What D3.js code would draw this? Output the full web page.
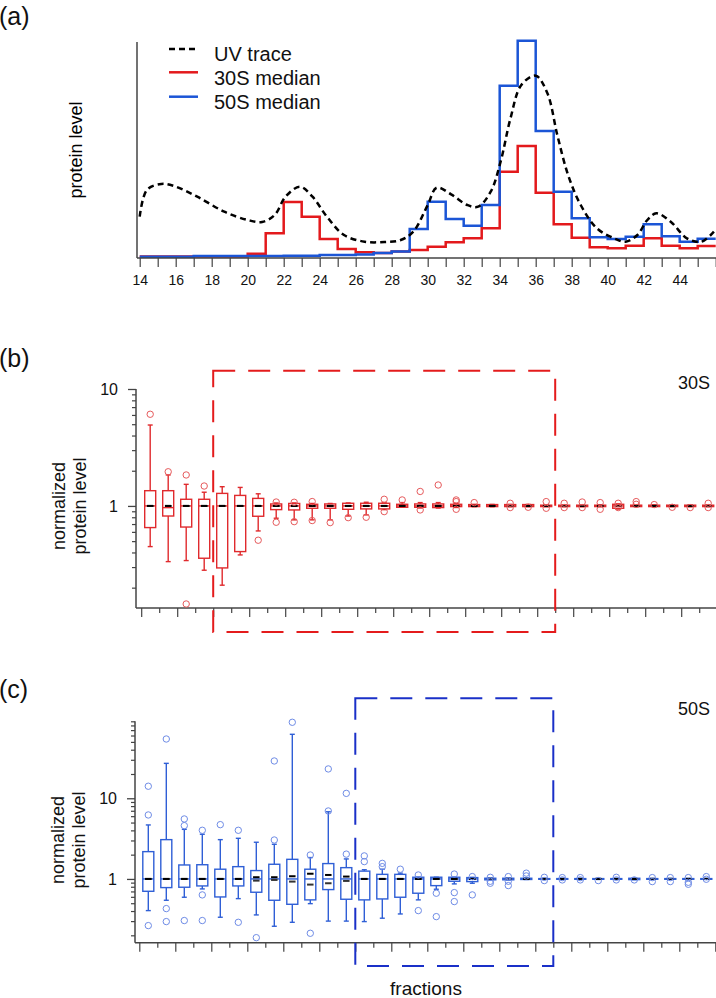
<!DOCTYPE html>
<html><head><meta charset="utf-8">
<script src="https://cdn.jsdelivr.net/npm/d3@7"></script>
<style>body{margin:0;background:#fff}svg{display:block;font-family:"Liberation Sans",Arial,sans-serif}</style>
</head><body><svg id="chart" width="716" height="998"></svg>
<script>
// ---------- DATA ----------
const fractions = d3.range(14, 46); // fractions 14..45
const labelTicks = d3.range(14, 46, 2);

// panel (a): UV trace (fraction, level) and median step levels
const uvFraction = [14.0,14.4,15.2,15.9,17.2,18.7,20.0,20.8,21.5,22.1,22.9,23.6,24.4,25.35,26.5,27.6,28.5,29.2,30.0,30.5,31.3,32.2,32.8,33.5,34.05,34.6,35.2,36.0,36.65,37.2,37.8,38.5,39.4,40.35,41.0,41.65,42.2,42.7,43.5,44.4,45.2,45.9];
const uvLevel =    [41.3,68,74,72,61.3,46.3,38,36,43,61.3,71.3,61.3,41.3,23,16.3,16,18,26.3,53,70.3,63.7,53,51.3,66.3,96.3,139.7,173,182.3,164.7,123,83,53,29.7,19.7,16.3,23,38,44.7,36.3,19.7,16.3,26.3];
const median30S = [1.5,1.5,1.5,1.5,1.5,1.5,4.3,24.7,56,41.3,19,9,5.7,5,6.5,8,11.3,15.7,19.7,29.7,86.3,112,65.3,33.7,20.3,10.7,9.7,12.3,19.7,12.3,9.7,12];
const median50S = [1.3,1.3,1.3,2,2,2,2,2,2.3,2.3,3,3,3.5,5,6.5,29,56.3,39,32.3,53,172.3,217.3,127,66.3,39.7,20.7,19,21.3,33.7,21.7,16.3,19.3];

// panel (b): 30S normalized protein level box plots
const s30Low  = [0.449,0.334,0.341,0.282,0.21,0.381,0.611,0.785,0.76,0.76,0.76,0.82,0.838,0.93,0.974,0.96,0.96,0.97,0.985,0.985,0.985,0.985,0.985,0.985,0.985,0.985,0.94,0.985,0.985,0.985,0.985,0.985];
const s30Q1   = [0.653,0.82,0.66,0.357,0.295,0.407,0.816,0.93,0.924,0.955,0.955,0.936,0.943,0.943,0.974,0.974,0.968,0.987,0.987,0.987,0.987,0.987,0.987,0.987,0.987,0.987,0.955,0.987,0.987,0.987,0.987,0.987];
const s30Med  = [1,0.967,1,1,1,1,1,1,1,1,1,1,1,1,1,1,1,1,1,1,1,1,1,1,1,1,1,1,1,1,1,1];
const s30Q3   = [1.35,1.35,1.14,1.14,1.28,1.23,1.16,1.04,1.05,1.033,1.04,1.054,1.054,1.054,1.033,1.04,1.04,1.033,1.027,1.027,1.027,1.027,1.015,1.015,1.015,1.015,1.033,1.015,1.015,1.015,1.015,1.015];
const s30High = [4.92,1.84,1.53,1.31,1.46,1.44,1.27,1.06,1.06,1.05,1.05,1.06,1.075,1.07,1.068,1.068,1.068,1.05,1.03,1.03,1.03,1.03,1.02,1.02,1.02,1.02,1.04,1.02,1.02,1.02,1.02,1.02];
const s30MarkA = [1,1,1,1,1,1,1,1,1,1,1,1,1,1,1,1,1,1,1,1,1,1,1,1,1,1,1,1,1,1,1,1];
const s30MarkB = [1,1,1,1,1,1,1,1,1,1,1,1,1,1,1,1,1,1,1,1,1,1,1,1,1,1,1,1,1,1,1,1];
const s30Out  = [[6.08],[1.96],[1.84,0.145],[1.48],[],[],[0.509],[1.08,0.725],[1.075,0.734],[1.09,0.75],[0.72],[0.794],[0.8],[1.14,0.894],[1.125],[1.33,0.924],[1.51],[1.125,1.089,0.936],[1.068],[],[1.054,0.968],[0.974],[1.089,0.955],[1.054,0.968],[1.08,0.968],[1.068,0.936],[1.054,0.968],[1.089,1.033],[1.027],[0.974],[0.968],[1.054,0.968]];
const s30Frame = [18, 37];

// panel (c): 50S normalized protein level box plots
const s50Low  = [0.405,0.544,0.593,0.752,0.335,0.57,0.358,0.259,0.29,0.494,0.3,0.3,0.296,0.326,0.368,0.55,0.745,0.868,0.884,0.975,0.975,0.985,0.985,0.985,0.985,0.985,0.985,0.98,0.985,0.985,0.985,0.985];
const s50Q1   = [0.703,0.781,0.789,0.819,0.598,0.819,0.684,0.544,0.485,0.55,0.738,0.56,0.55,0.565,0.593,0.665,0.826,0.936,0.927,0.975,0.975,0.985,0.99,0.99,0.99,0.99,0.99,0.981,0.99,0.99,0.99,0.99];
const s50Med  = [1,1,1,1,1,1,1,1,1,1,1,1,1,1,1,1,1,1,1,1,1,1,1,1,1,1,1,1,1,1,1,1];
const s50Q3   = [2.18,3.07,1.49,1.5,1.32,1.42,1.27,1.52,1.75,1.32,1.55,1.38,1.25,1.14,1.14,1.05,1.05,1.05,1.039,1.02,1.02,1.02,1.01,1.01,1.01,1.01,1.01,1.019,1.01,1.01,1.01,1.01];
const s50High = [4.67,27.1,4.12,3.58,3.07,3.19,2.85,2.69,62.1,1.84,6.8,1.77,1.3,1.32,1.18,1.05,1.05,1.05,1.045,1.025,1.025,1.025,1.015,1.015,1.015,1.015,1.015,1.02,1.015,1.015,1.015,1.015];
const s50MarkA = [1,1,1,1,1,1,1.05,1.05,1.08,1.16,1.12,1.07,1,1,1,1,1,1,1,1,1,1,1,1,1,1,1,1,1,1,1,1];
const s50MarkB = [1,1,1,1,1,1,0.953,0.972,0.927,0.851,0.884,0.945,1,1,1,1,1,1,1,1,1,1,1,1,1,1,1,1,1,1,1,1];
const s50Out  = [[14.1,6.21,0.264],[54.3,0.429,0.296],[5.54,4.58,0.305],[4.01,0.634,0.305],[4.71],[4.01,0.29],[0.187],[29,3.04],[87.5],[1.98,0.212],[23.1,6.96],[11.5,2.03],[1.93,1.64],[1.56,1.42],[1.32],[1.12,0.405],[0.665,0.341],[1.15,0.677,0.524],[1.07,0.634],[1.048,0.936,0.884],[1.069,0.936,0.827],[1.18,1.09],[1.048,0.954],[1.039,0.972],[1.039,0.972],[0.954],[1.048,0.972],[0.972],[1.039,0.927],[1.039,0.927],[1.039,0.909,0.859],[1.069,0.991]];
const s50Frame = [26, 37];

// ---------- DRAW ----------
const svg = d3.select("#chart");
const W = 716;
const axisColor = "#444";
const RED = "#e3191c", BLUE = "#1b55d6";

// ===== Panel (a) =====
const xa = d3.scaleLinear().domain([14, 15]).range([139.7, 157.7]);
const ya = d3.scaleLinear().domain([0, 220]).range([258, 38]);
const ga = svg.append("g");
ga.append("defs").append("clipPath").attr("id","clipA").append("rect")
  .attr("x",137).attr("y",0).attr("width",W-137).attr("height",260);

const stepLine = d3.line().x(d => xa(d[0])).y(d => ya(d[1])).curve(d3.curveStepAfter);
function stepData(vals){ const d = fractions.map((f,i)=>[f, vals[i]]); d.push([46, vals[vals.length-1]]); return d; }
const plotA = ga.append("g").attr("clip-path","url(#clipA)");
plotA.append("path").attr("d", stepLine(stepData(median30S))).attr("fill","none").attr("stroke",RED).attr("stroke-width",2.5);
plotA.append("path").attr("d", stepLine(stepData(median50S))).attr("fill","none").attr("stroke",BLUE).attr("stroke-width",2.5);
const uvLine = d3.line().x(d=>xa(d[0])).y(d=>ya(d[1])).curve(d3.curveCatmullRom.alpha(0.5));
plotA.append("path").attr("d", uvLine(uvFraction.map((f,i)=>[f, uvLevel[i]])))
  .attr("fill","none").attr("stroke","#000").attr("stroke-width",2.5).attr("stroke-dasharray","6,4");

// axes (a)
ga.append("line").attr("x1",137).attr("x2",137).attr("y1",42).attr("y2",258).attr("stroke",axisColor).attr("stroke-width",1.5);
const axA = ga.append("g").attr("transform","translate(0,258)")
  .call(d3.axisBottom(xa).tickValues(d3.range(14,47)).tickSize(9).tickFormat(d => labelTicks.includes(d) ? d : ""));
axA.select(".domain").attr("d", `M137,0H${W}`).attr("stroke",axisColor).attr("stroke-width",1.5);
axA.selectAll(".tick line").attr("stroke",axisColor).attr("stroke-width",1.2);
axA.selectAll(".tick text").attr("font-size",14).attr("fill","#111").attr("y",17).attr("font-family","Liberation Sans, Arial, sans-serif");

ga.append("text").attr("transform","translate(82,150) rotate(-90)").attr("text-anchor","middle")
  .attr("font-size",18).text("protein level");

// legend
const legend = [
  {label:"UV trace", color:"#000", dash:"6,4", y:49, ty:61},
  {label:"30S median", color:RED, dash:null, y:72.3, ty:85},
  {label:"50S median", color:BLUE, dash:null, y:96.7, ty:109}
];
legend.forEach(l => {
  ga.append("line").attr("x1",169).attr("x2",198).attr("y1",l.y).attr("y2",l.y)
    .attr("stroke",l.color).attr("stroke-width",2.5).attr("stroke-dasharray",l.dash);
  ga.append("text").attr("x",214).attr("y",l.ty).attr("font-size",20).attr("fill","#111").text(l.label);
});

// ===== Box plot panels =====
function boxPanel(cfg){
  const g = svg.append("g");
  const x = cfg.x, y = cfg.y;
  // y axis
  g.append("line").attr("x1",cfg.axisX).attr("x2",cfg.axisX).attr("y1",cfg.yTop).attr("y2",cfg.yBottom)
    .attr("stroke",axisColor).attr("stroke-width",1.5);
  const major = g.append("g").attr("transform",`translate(${cfg.axisX},0)`)
    .call(d3.axisLeft(y).tickValues(cfg.majorTicks).tickSize(8).tickFormat(d3.format("d")));
  major.select(".domain").remove();
  major.selectAll(".tick line").attr("stroke",axisColor).attr("stroke-width",1.3);
  major.selectAll(".tick text").attr("font-size",16).attr("fill","#111").attr("x",-18).attr("font-family","Liberation Sans, Arial, sans-serif");
  const minor = g.append("g").attr("transform",`translate(${cfg.axisX},0)`)
    .call(d3.axisLeft(y).tickValues(cfg.minorTicks).tickSize(4).tickFormat(""));
  minor.select(".domain").remove();
  minor.selectAll(".tick line").attr("stroke",axisColor).attr("stroke-width",1.2);
  // x axis
  const ax = g.append("g").attr("transform",`translate(0,${cfg.yBottom})`)
    .call(d3.axisBottom(x).tickValues(d3.range(14,47)).tickSize(9).tickFormat(""));
  ax.select(".domain").attr("d",`M${cfg.axisX},0H${W}`).attr("stroke",axisColor).attr("stroke-width",1.5);
  ax.selectAll(".tick line").attr("stroke",axisColor).attr("stroke-width",1.2)
    .attr("y2", d => d % 2 === 0 ? 9 : 5);

  // frame
  g.append("rect").attr("x",x(cfg.frame[0])).attr("y",cfg.frameTop)
    .attr("width",x(cfg.frame[1])-x(cfg.frame[0])).attr("height",cfg.frameBottom-cfg.frameTop)
    .attr("fill","none").attr("stroke",cfg.frameColor).attr("stroke-width",2).attr("stroke-dasharray","22,13");

  const bw = 11, cap = 5, mw = 6.5;
  const boxes = g.append("g").selectAll("g").data(fractions).join("g");
  boxes.each(function(f, i){
    const s = d3.select(this);
    const cx = x(f + 0.5);
    const d = cfg.data;
    s.append("line").attr("x1",cx).attr("x2",cx).attr("y1",y(d.high[i])).attr("y2",y(d.q3[i]))
      .attr("stroke",cfg.color).attr("stroke-width",1.4);
    s.append("line").attr("x1",cx).attr("x2",cx).attr("y1",y(d.q1[i])).attr("y2",y(d.low[i]))
      .attr("stroke",cfg.color).attr("stroke-width",1.4);
    s.append("line").attr("x1",cx-cap/2).attr("x2",cx+cap/2).attr("y1",y(d.high[i])).attr("y2",y(d.high[i]))
      .attr("stroke",cfg.color).attr("stroke-width",1.4);
    s.append("line").attr("x1",cx-cap/2).attr("x2",cx+cap/2).attr("y1",y(d.low[i])).attr("y2",y(d.low[i]))
      .attr("stroke",cfg.color).attr("stroke-width",1.4);
    s.append("rect").attr("x",cx-bw/2).attr("y",y(d.q3[i])).attr("width",bw)
      .attr("height",Math.max(0.5, y(d.q1[i])-y(d.q3[i])))
      .attr("fill","#fff").attr("stroke",cfg.color).attr("stroke-width",1.4);
    s.append("line").attr("x1",cx-bw/2).attr("x2",cx+bw/2).attr("y1",y(d.med[i])).attr("y2",y(d.med[i]))
      .attr("stroke",cfg.color).attr("stroke-width",1.4);
    s.append("line").attr("x1",cx-mw/2).attr("x2",cx+mw/2).attr("y1",y(d.markB[i])).attr("y2",y(d.markB[i]))
      .attr("stroke","#333").attr("stroke-width",2);
    s.append("line").attr("x1",cx-mw/2).attr("x2",cx+mw/2).attr("y1",y(d.markA[i])).attr("y2",y(d.markA[i]))
      .attr("stroke","#000").attr("stroke-width",2);
    s.selectAll("circle").data(d.out[i]).join("circle")
      .attr("cx",cx).attr("cy",v=>y(v)).attr("r",3.2)
      .attr("fill","none").attr("stroke",cfg.outColor).attr("stroke-width",1);
  });

  g.append("text").attr("x",678).attr("y",cfg.nameY).attr("font-size",18).attr("fill","#111").text(cfg.name);
  g.append("text").attr("transform",`translate(${cfg.labelX1},${cfg.labelY}) rotate(-90)`).attr("text-anchor","middle")
    .attr("font-size",18).attr("fill","#111").text("normalized");
  g.append("text").attr("transform",`translate(${cfg.labelX2},${cfg.labelY}) rotate(-90)`).attr("text-anchor","middle")
    .attr("font-size",18).attr("fill","#111").text("protein level");
}

const minorLow = [0.2,0.3,0.4,0.5,0.6,0.7,0.8,0.9];
const minorMid = [2,3,4,5,6,7,8,9];
const minorHigh = [20,30,40,50,60,70,80,90];

boxPanel({
  x: d3.scaleLinear().domain([14,15]).range([141.2,159.2]),
  y: d3.scaleLog().domain([0.134,10]).range([608,389]),
  axisX:136, yTop:389, yBottom:608,
  majorTicks:[1,10], minorTicks: minorLow.concat(minorMid),
  frame:s30Frame, frameTop:370.7, frameBottom:632, frameColor:"#e41b1c",
  color:"#e02a2d", outColor:"#e65a5c",
  data:{low:s30Low,q1:s30Q1,med:s30Med,q3:s30Q3,high:s30High,markA:s30MarkA,markB:s30MarkB,out:s30Out},
  name:"30S", nameY:389, labelX1:65, labelX2:86, labelY:506
});
boxPanel({
  x: d3.scaleLinear().domain([14,15]).range([139.3,157.3]),
  y: d3.scaleLog().domain([0.162,90]).range([942.7,721.3]),
  axisX:135, yTop:721.3, yBottom:942.7,
  majorTicks:[1,10], minorTicks: minorLow.concat(minorMid, minorHigh),
  frame:s50Frame, frameTop:698.3, frameBottom:966, frameColor:"#1a30c8",
  color:"#2f5fd6", outColor:"#6f8ce6",
  data:{low:s50Low,q1:s50Q1,med:s50Med,q3:s50Q3,high:s50High,markA:s50MarkA,markB:s50MarkB,out:s50Out},
  name:"50S", nameY:715, labelX1:64, labelX2:85, labelY:840
});

svg.append("text").attr("x",426).attr("y",995).attr("text-anchor","middle").attr("font-size",19).attr("fill","#111").text("fractions");

// panel letters
[["(a)",25],["(b)",367],["(c)",698]].forEach(([t,yy]) =>
  svg.append("text").attr("x",-1).attr("y",yy).attr("font-size",25).attr("fill","#111").text(t));
</script></body></html>
